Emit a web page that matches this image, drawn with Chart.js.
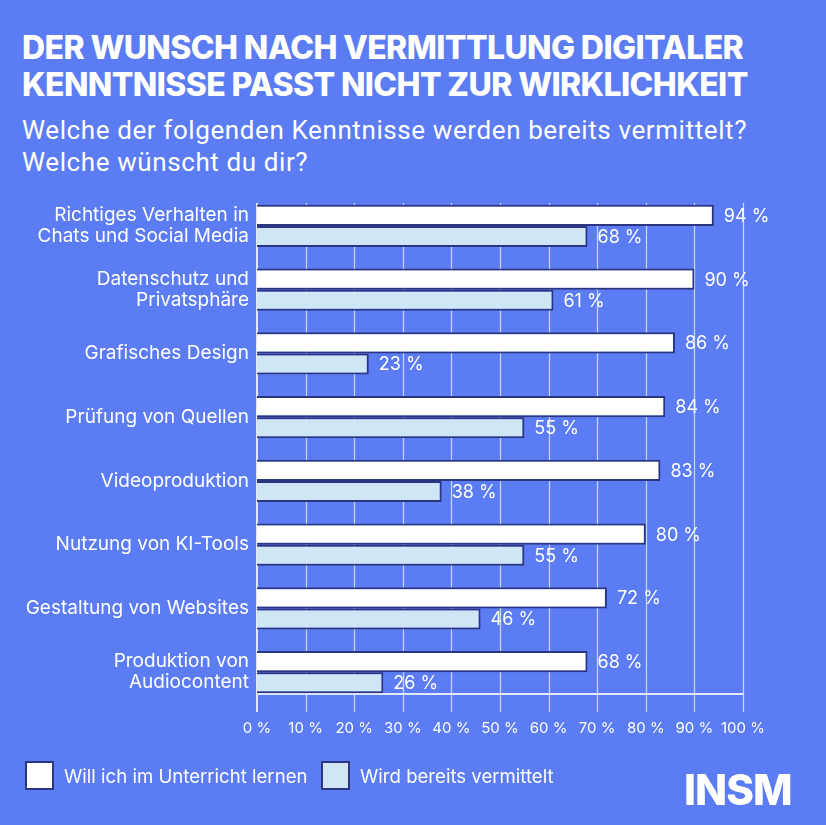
<!DOCTYPE html>
<html lang="de">
<head>
    <meta charset="UTF-8">
    <title>Digitale Kenntnisse</title>
    <script src="https://cdn.jsdelivr.net/npm/chart.js"></script>
    <style>
        html, body { margin: 0; padding: 0; }
        body { width: 826px; height: 825px; background: #5b7cf3; position: relative; overflow: hidden; color: #fff; }
        #chartBox { position: absolute; left: 0; top: 0; width: 826px; height: 825px; }
        .title { position: absolute; left: 22px; top: 29px; font-family: Inter, sans-serif; font-weight: 800; font-size: 32px; line-height: 37px; letter-spacing: -0.6px; white-space: nowrap; }
        .subtitle { position: absolute; left: 22px; top: 114px; font-family: Roboto, sans-serif; font-size: 26px; line-height: 32px; letter-spacing: 0.6px; white-space: nowrap; }
        .legend { position: absolute; top: 761px; font-family: Inter, sans-serif; font-size: 18.6px; line-height: 28px; display: flex; align-items: center; }
        .legend .box { width: 25px; height: 25px; border: 2px solid #2c3580; margin-right: 10px; }
        .logo { position: absolute; left: 684px; top: 764px; font-family: Inter, sans-serif; font-weight: 800; font-size: 42px; letter-spacing: -1px; }
    </style>
</head>
<body>
    <div class="title">DER WUNSCH NACH VERMITTLUNG DIGITALER<br>KENNTNISSE PASST NICHT ZUR WIRKLICHKEIT</div>
    <div class="subtitle">Welche der folgenden Kenntnisse werden bereits vermittelt?<br>Welche wünscht du dir?</div>
    <div id="chartBox"><canvas id="chart"></canvas></div>
    <div class="legend" style="left:25px"><div class="box" style="background:#ffffff"></div>Will ich im Unterricht lernen</div>
    <div class="legend" style="left:321px"><div class="box" style="background:#cfe6f5"></div>Wird bereits vermittelt</div>
    <div class="logo">INSM</div>

    <script>
        // Daten
        const kategorien = [
            ['Richtiges Verhalten in', 'Chats und Social Media'],
            ['Datenschutz und', 'Privatsphäre'],
            'Grafisches Design',
            'Prüfung von Quellen',
            'Videoproduktion',
            'Nutzung von KI-Tools',
            'Gestaltung von Websites',
            ['Produktion von', 'Audiocontent']
        ];
        const willLernen = [94, 90, 86, 84, 83, 80, 72, 68];
        const bereitsVermittelt = [68, 61, 23, 55, 38, 55, 46, 26];
        const xTicks = [0, 10, 20, 30, 40, 50, 60, 70, 80, 90, 100];

        const randOben = 9, randUnten = 10;

        // Gitter und Achsen etwas kürzer als die Chartfläche zeichnen
        const achsenPlugin = {
            id: 'achsen',
            beforeDatasetsDraw(chart) {
                const { ctx, chartArea, scales } = chart;
                const top = chartArea.top + randOben;
                const base = chartArea.bottom - randUnten;
                ctx.save();
                ctx.strokeStyle = 'rgba(235,240,255,0.75)';
                ctx.lineWidth = 1.3;
                xTicks.forEach(t => {
                    if (t === 0) return;
                    const x = Math.round(scales.x.getPixelForValue(t)) + 0.5;
                    ctx.beginPath();
                    ctx.moveTo(x, top);
                    ctx.lineTo(x, base + 18);
                    ctx.stroke();
                });
                ctx.strokeStyle = '#e3e8fb';
                ctx.lineWidth = 2;
                const x0 = scales.x.getPixelForValue(0);
                ctx.beginPath();
                ctx.moveTo(x0, top);
                ctx.lineTo(x0, base + 18);
                ctx.moveTo(x0, base);
                ctx.lineTo(scales.x.getPixelForValue(100), base);
                ctx.stroke();
                ctx.restore();
            },
            afterDatasetsDraw(chart) {
                const { ctx } = chart;
                ctx.save();
                ctx.fillStyle = '#ffffff';
                ctx.font = '18px Inter, sans-serif';
                ctx.textBaseline = 'middle';
                chart.data.datasets.forEach((ds, i) => {
                    chart.getDatasetMeta(i).data.forEach((bar, j) => {
                        ctx.fillText(ds.data[j] + ' %', bar.x + 10, bar.y + 1);
                    });
                });
                ctx.restore();
            }
        };

        new Chart(document.getElementById('chart'), {
            type: 'bar',
            data: {
                labels: kategorien,
                datasets: [{
                    label: 'Will ich im Unterricht lernen',
                    data: willLernen,
                    backgroundColor: '#ffffff',
                    borderColor: '#2c3580',
                    borderWidth: 2,
                    categoryPercentage: 0.66,
                    barPercentage: 1
                }, {
                    label: 'Wird bereits vermittelt',
                    data: bereitsVermittelt,
                    backgroundColor: '#cfe6f5',
                    borderColor: '#2c3580',
                    borderWidth: 2,
                    categoryPercentage: 0.66,
                    barPercentage: 1
                }]
            },
            options: {
                indexAxis: 'y',
                responsive: true,
                maintainAspectRatio: false,
                animation: false,
                layout: { padding: { top: 194, right: 83, bottom: 81, left: 0 } },
                plugins: { legend: { display: false }, tooltip: { enabled: false } },
                scales: {
                    x: {
                        min: 0, max: 100,
                        afterBuildTicks: s => { s.ticks = xTicks.map(v => ({ value: v })); },
                        afterFit: s => { s.height = 40; },
                        grid: { display: false, drawTicks: false },
                        border: { display: false },
                        ticks: {
                            color: '#ffffff',
                            font: { family: 'Inter, sans-serif', size: 15 },
                            padding: 15,
                            autoSkip: false,
                            maxRotation: 0,
                            minRotation: 0,
                            callback: v => v + ' %'
                        }
                    },
                    y: {
                        afterFit: s => { s.width = 257; },
                        grid: { display: false, drawTicks: false },
                        border: { display: false },
                        ticks: {
                            color: '#ffffff',
                            font: { family: 'Inter, sans-serif', size: 19, lineHeight: 1.12 },
                            padding: 8
                        }
                    }
                }
            },
            plugins: [achsenPlugin]
        });
    </script>
</body>
</html>
